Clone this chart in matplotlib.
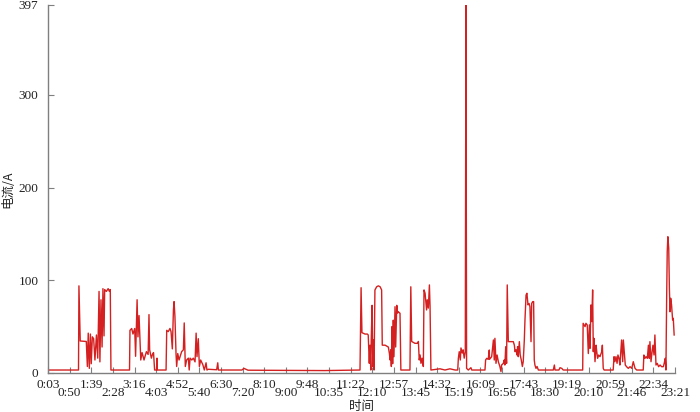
import matplotlib
matplotlib.use("Agg")
import matplotlib.pyplot as plt
from matplotlib.ticker import FixedLocator, FixedFormatter

# --- data: position along the time axis (in tick-interval units) and current (A) ---
t = [
    0.00, 1.41, 1.43, 1.49, 1.77, 1.82, 1.86, 1.91, 1.96, 2.00, 2.05, 2.11, 2.17, 2.24,
    2.30, 2.36, 2.40, 2.45, 2.50, 2.54, 2.59, 2.62, 2.70, 2.78, 2.84, 2.88, 2.91,
    3.77, 3.79, 3.87, 3.93, 4.01, 4.05, 4.12, 4.16, 4.21, 4.29, 4.35, 4.44, 4.55, 4.63,
    4.67, 4.70, 4.78, 4.83, 4.88, 4.93, 5.02, 5.04, 5.05,
    5.46, 5.49, 5.56, 5.64, 5.69, 5.75, 5.80, 5.83, 5.87, 5.92, 5.95, 6.00, 6.06, 6.11,
    6.18, 6.26, 6.30, 6.35, 6.41, 6.49, 6.53, 6.57, 6.65, 6.72, 6.80, 6.85, 6.89, 6.95,
    7.00, 7.06, 7.16, 7.23, 7.31, 7.35, 7.41, 7.80, 7.85, 7.88,
    8.97, 9.06, 9.16, 9.25, 11.50, 12.80, 14.43,
    14.48, 14.52, 14.66, 14.77, 14.81, 14.86, 14.89, 14.93, 14.95, 14.99, 15.02, 15.04,
    15.08, 15.12, 15.20, 15.28, 15.36, 15.43, 15.46, 15.59, 15.74, 15.79, 15.82, 15.85,
    15.88, 15.91, 15.94, 15.97, 16.00, 16.05, 16.08, 16.13, 16.17, 16.20, 16.28, 16.32,
    16.74, 16.78, 16.82, 16.97, 17.10, 17.13, 17.17, 17.21, 17.25, 17.30, 17.33, 17.36,
    17.39, 17.44, 17.48, 17.51, 17.54, 17.59, 17.64, 17.67, 17.71,
    18.13, 18.36, 18.59, 18.83, 18.95,
    18.98, 19.02, 19.07, 19.10, 19.16, 19.20, 19.25, 19.30, 19.33, 19.36, 19.44, 19.56,
    19.60, 20.21, 20.24, 20.29, 20.36, 20.41, 20.42, 20.52, 20.60, 20.64, 20.67, 20.72,
    20.77, 20.83, 20.90, 20.95, 20.98, 21.06, 21.10, 21.13, 21.17, 21.21, 21.24, 21.29,
    21.52, 21.57, 21.60, 21.65, 21.69, 21.72, 21.75, 21.80, 21.84, 21.89, 21.94, 21.98,
    22.03, 22.06, 22.11, 22.15, 22.20, 22.25, 22.29, 22.34, 22.37, 22.42, 22.46, 22.49,
    22.52, 22.57, 22.62, 22.68, 23.37, 23.42, 23.45, 23.63, 23.68, 23.76, 23.83,
    24.73, 24.75, 24.84, 24.88, 24.94, 24.99, 25.04, 25.07, 25.11, 25.15, 25.19, 25.22,
    25.25, 25.30, 25.35, 25.38, 25.42, 25.47, 25.53, 25.61, 25.64, 25.68, 25.72,
    26.14, 26.18, 26.22, 26.27, 26.32, 26.36, 26.41, 26.45, 26.53, 26.58, 26.61, 26.65,
    26.70, 26.76, 26.84, 26.92, 27.00, 27.07, 27.15, 27.23,
    27.53, 27.56, 27.61, 27.66, 27.72, 27.77, 27.81, 27.84, 27.89, 27.94, 27.98, 28.03,
    28.07, 28.12, 28.18, 28.24, 28.31, 28.38, 28.46, 28.50, 28.55, 28.58, 28.61, 28.64,
    28.67, 28.71, 28.74, 28.77, 28.80, 28.84, 28.89, 28.92, 28.96,
]
current = [
    3.2, 3.2, 94, 34.5, 34, 7, 43, 5, 42, 10, 39, 37, 14, 41,
    16, 88, 12, 79, 28, 91, 40, 90, 88, 91, 88, 90, 3.2,
    3.2, 46, 48, 42, 48, 18, 79, 39, 62, 14, 22, 14, 23, 20,
    63, 25, 16, 20, 22, 3.2, 3.2, 16, 3.2,
    3.2, 46, 44.6, 48, 44.6, 26, 68, 77, 61, 21, 7, 21, 14, 17.6,
    23, 25, 54, 7, 14, 16, 3.2, 16, 14, 16, 12, 43, 17.6, 37,
    7, 14, 9, 3.2, 11, 3.2, 4, 3.5, 11, 3.2,
    3.2, 5, 4, 3, 2.7, 2.6, 3.2,
    92, 43.5, 42, 42, 41, 10.4, 30, 3.2, 36, 73, 7, 36,
    3.2, 89.5, 93, 94, 93, 89.6, 30, 30, 28, 21, 14, 25,
    7, 50, 10, 57, 17.6, 71.5, 28, 73, 64.7, 66, 64.4, 3.2,
    3.2, 93, 34, 32, 32, 34, 14, 19.4, 10.4, 16, 10.4, 7,
    89.6, 86, 75.5, 68, 79, 70, 95, 71.5, 3.2,
    4.5, 3.2, 4.5, 3.2, 3.2,
    16, 23, 14, 27, 21.5, 25, 16, 23, 397, 5, 3.2, 5.7,
    3.2, 3.2, 14, 15.8, 14.7, 24.8, 14.7, 17.6, 35.6, 14, 37.4, 10.4,
    19.4, 12, 7, 1.6, 8.6, 10.4, 14, 8.6, 28.4, 10.4, 95, 33.8,
    33.8, 30, 23, 25, 19.4, 28.4, 17.6, 33.8, 19.4, 14, 7, 12.2,
    35.6, 57, 84, 86, 73.5, 75, 71.5, 33.8, 75, 77, 77, 14,
    8.6, 5, 7, 3.2, 3.2, 8.6, 3.2, 3.2, 5.7, 5, 3.2,
    3.2, 53.6, 50, 53.6, 51.8, 21, 51.8, 26.6, 73.4, 55.4, 89.6, 23,
    37.4, 12.2, 30, 23, 15.8, 19.4, 17.6, 23, 30, 5, 3.2,
    3.2, 17.6, 12.2, 17.6, 10.4, 19.4, 15.8, 8.6, 35.6, 12.2, 35.6, 23,
    8.6, 6.8, 5, 6.8, 5, 12.2, 5, 3.2,
    3.2, 19.4, 15.8, 17.6, 15.8, 30, 15.8, 33.8, 12.2, 23, 30, 19.4,
    41, 8.6, 10.4, 6.8, 8.6, 6.8, 6.8, 10.4, 15.8, 3.2, 73.4, 131,
    147, 134.5, 91.4, 66, 80.6, 73.4, 57.2, 59, 41,
]
time_labels = [
    "0:03", "0:50", "1:39", "2:28", "3:16", "4:03", "4:52", "5:40", "6:30", "7:20",
    "8:10", "9:00", "9:48", "10:35", "11:22", "12:10", "12:57", "13:45", "14:32", "15:19",
    "16:09", "16:56", "17:43", "18:30", "19:19", "20:10", "20:59", "21:46", "22:34", "23:21",
]
y_ticks = [0, 100, 200, 300, 397]

SERIF = ["Liberation Serif", "Noto Sans CJK SC"]
CJK = ["Noto Sans CJK SC", "Liberation Serif"]
LINE_RED = "#d42020"
AXIS_GREY = "#7f7f7f"
TICK_SIZE = 9.5

fig = plt.figure(figsize=(7.0, 4.12), dpi=100)
ax = fig.add_axes([0.0686, 0.0947, 0.8957, 0.8932])

ax.plot(t, current, color=LINE_RED, linewidth=1.0)

ax.set_xlim(0, len(time_labels) - 1)
ax.set_ylim(0, y_ticks[-1])

# alternate tick labels on two rows: even on the major ticks, odd on minor ticks
pos = list(range(len(time_labels)))
ax.xaxis.set_major_locator(FixedLocator(pos[0::2]))
ax.xaxis.set_major_formatter(FixedFormatter(time_labels[0::2]))
ax.xaxis.set_minor_locator(FixedLocator(pos[1::2]))
ax.xaxis.set_minor_formatter(FixedFormatter(time_labels[1::2]))
ax.set_yticks(y_ticks)
ax.set_yticklabels([str(v) for v in y_ticks])

ax.tick_params(axis="x", which="major", direction="in", length=4, width=0.8,
               color=AXIS_GREY, pad=4, labelsize=TICK_SIZE)
ax.tick_params(axis="x", which="minor", direction="in", length=4, width=0.8,
               color=AXIS_GREY, pad=10, labelsize=TICK_SIZE)
ax.tick_params(axis="y", direction="in", length=4, width=0.8,
               color=AXIS_GREY, pad=7, labelsize=TICK_SIZE)
for lbl in ax.get_xticklabels(which="both") + ax.get_yticklabels():
    lbl.set_family(SERIF)
    lbl.set_color("#222222")

for side in ("top", "right"):
    ax.spines[side].set_visible(False)
for side in ("left", "bottom"):
    ax.spines[side].set_color(AXIS_GREY)
    ax.spines[side].set_linewidth(1.0)

ax.set_xlabel("时间", family=CJK, fontsize=9, color="#222222", labelpad=0.5)
ax.set_ylabel("电流/A", family=CJK, fontsize=9, color="#222222", labelpad=3)

fig.savefig("out.png", dpi=100)
